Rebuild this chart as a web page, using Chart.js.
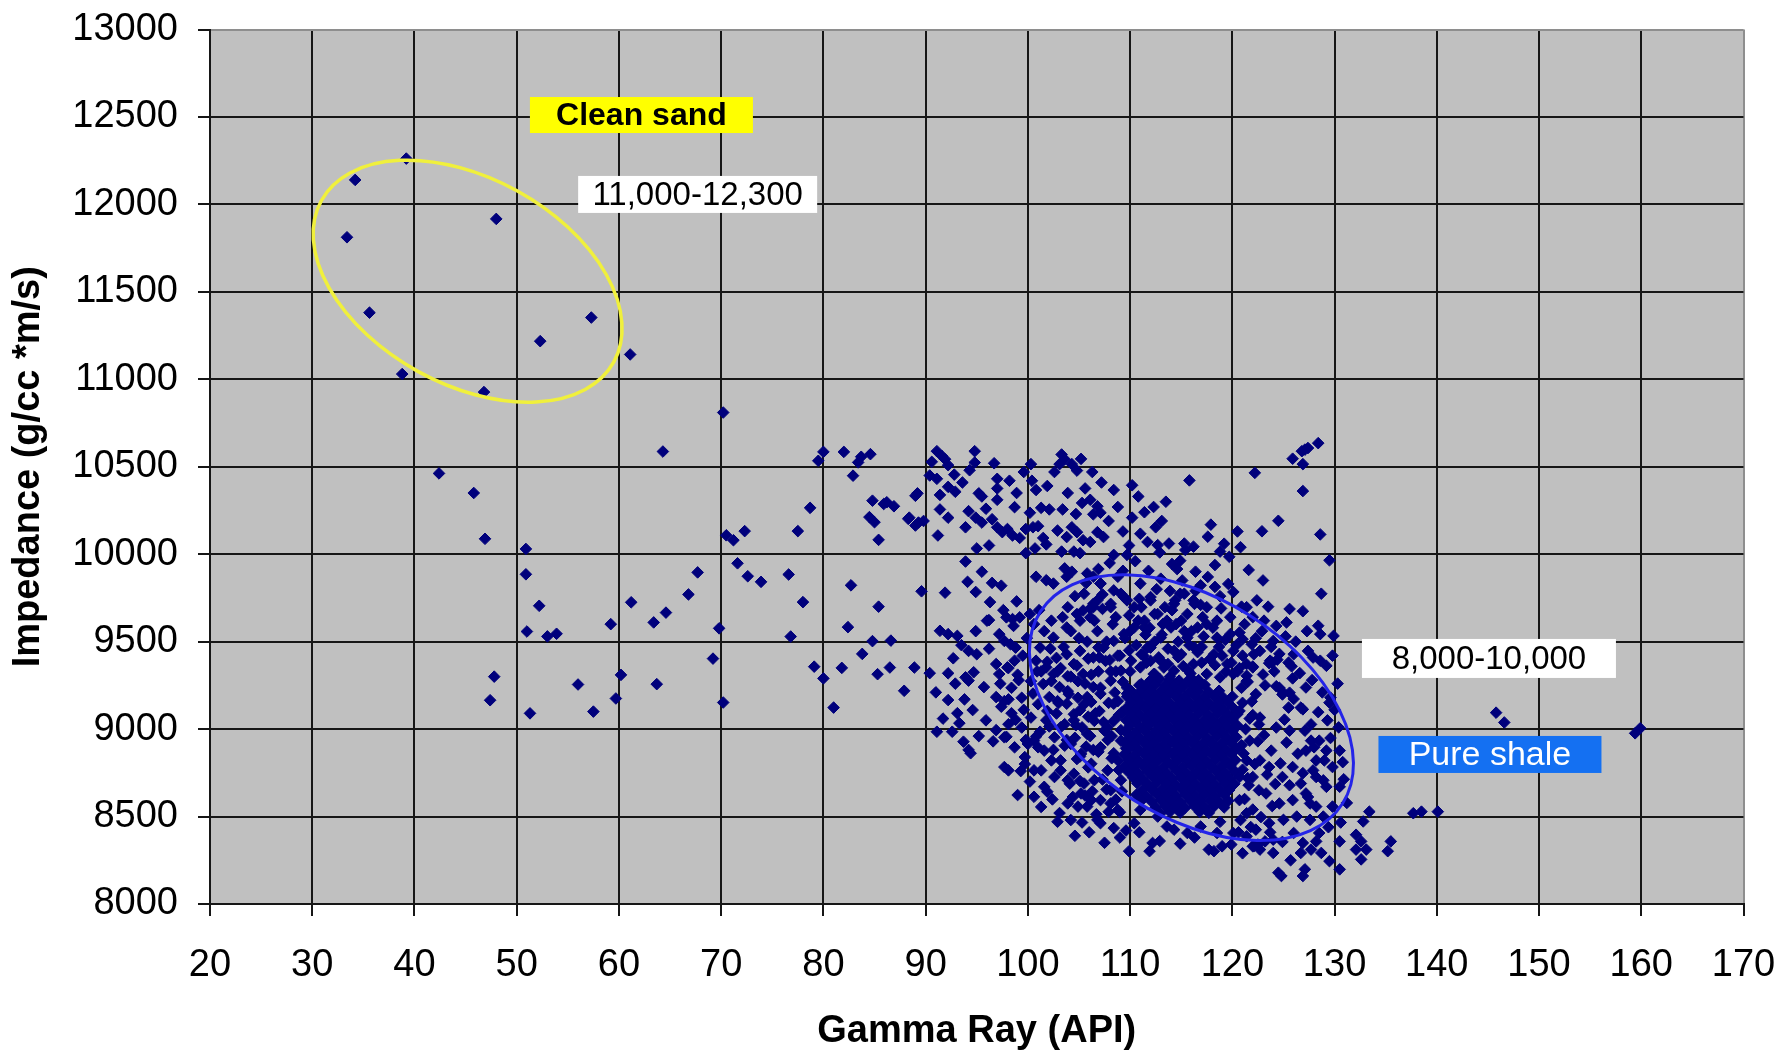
<!DOCTYPE html>
<html>
<head>
<meta charset="utf-8">
<title>Impedance vs Gamma Ray</title>
<script src="https://cdn.jsdelivr.net/npm/chart.js@4/dist/chart.umd.min.js"></script>
<style>
  html, body { margin: 0; padding: 0; background: #ffffff; }
  #wrap { width: 1781px; height: 1054px; }
</style>
</head>
<body>
<div id="wrap"><canvas id="chart" width="1781" height="1054"></canvas></div>
<script>
// Axis ticks
const grTicks = [20, 30, 40, 50, 60, 70, 80, 90, 100, 110, 120, 130, 140, 150, 160, 170];
const impTicks = [8000, 8500, 9000, 9500, 10000, 10500, 11000, 11500, 12000, 12500, 13000];

// Samples as [gamma ray (API), impedance (g/cc*m/s)]
const cleanSand = [
  [34.2,12140],[33.4,11812],[39.2,12262],[48.0,11917],[35.6,11381],[52.3,11218],[57.3,11353],
  [38.8,11030],[46.8,10927],[61.1,11142]
];

const transitionLeft = [
  [70.2,10810],[64.3,10587],[42.4,10462],[45.8,10350],[46.9,10088],[50.9,10030],[50.9,9885],
  [52.2,9705],[51.0,9558],[53.0,9530],[53.9,9545],[47.8,9300],[47.4,9165],[51.3,9090],[56.0,9255],
  [57.5,9100],[59.2,9600],[60.2,9310],[59.7,9175],[61.2,9725],[63.4,9610],[64.6,9666],[66.8,9770],
  [67.7,9896],[63.7,9257],[69.8,9576],[69.2,9403],[70.2,9152],[70.5,10108],[71.2,10080],[72.3,10132],
  [71.6,9948],[72.6,9874],[73.9,9842],[76.6,9884],[77.5,10132],[78.7,10265],[78.0,9726],[76.8,9529]
];

const transitionMid = [
  [79.5,10534],[80.0,10585],[82.0,10585],[82.9,10449],[83.4,10525],[83.7,10557],[84.6,10572],
  [84.8,10306],[85.9,10287],[86.2,10297],[86.9,10274],[88.3,10202],[89.0,10334],[89.0,10164],
  [84.5,10212],[85.0,10183],[85.4,10082],[82.7,9822],[85.4,9700],[82.4,9583],[84.8,9503],[86.6,9506],
  [83.8,9430],[79.1,9357],[81.8,9350],[80.0,9290],[85.3,9314],[86.5,9352],[88.9,9352],[87.9,9219],
  [81.0,9123],[89.6,9788],[89.8,10190]
];

const upperScatter = [
  [91.1,10589],[91.6,10561],[90.6,10528],[92.2,10509],[91.9,10543],[94.8,10589],[94.8,10524],
  [90.4,10450],[91.1,10431],[92.2,10385],[92.9,10357],[91.4,10339],[89.2,10348],[88.4,10209],
  [89.3,10181],[91.2,10107],[91.4,10256],[92.2,10209],[93.9,10154],[94.2,10246],[94.9,10209],
  [95.5,10181],[95.2,10348],[95.5,10330],[97.0,10431],[97.0,10376],[97.0,10311],[96.5,10200],
  [97.0,10154],[97.5,10126],[98.0,10144],[98.5,10107],[98.7,10269],[99.2,10093],[100.3,10515],
  [99.8,10144],[100.5,10154],[100.8,10367],[100.2,10237],[101.3,10265],[102.1,10256],[103.3,10570],
  [103.6,10543],[103.1,10515],[104.3,10515],[104.8,10478],[103.4,10256],[105.6,10376],[105.3,10293],
  [106.1,10311],[106.8,10274],[107.1,10237],[106.4,10228],[108.4,10367],[110.2,10394],[110.2,10209],
  [104.3,10154],[104.8,10126],[103.8,10098],[105.4,10080],[106.1,10070],[106.8,10126],[107.4,10098],
  [101.5,10093],[101.8,10056],[99.8,10006],[100.7,10033],[103.3,10015],[104.5,10015],[105.1,10006],
  [108.4,9996],[109.7,9996],[95.0,10033],[93.9,9958],[94.1,9842],[94.9,9784],[96.5,9836],[96.3,9726],
  [96.2,9623],[97.9,9639],[98.5,9629],[99.2,9639],[100.2,9658],[100.8,9871],[101.8,9851],[102.5,9832],
  [103.6,9919],[104.3,9900],[103.8,9871],[105.8,9890],[106.4,9871],[107.1,9832],[108.4,9793],
  [109.1,9774],[104.8,9658],[105.4,9678],[106.1,9639],[106.4,9716],[107.3,9687],[91.4,9562],
  [92.2,9543],[93.1,9533],[97.2,9543],[97.7,9504],[98.3,9485],[98.8,9466],[94.2,9447],[95.0,9428],
  [92.2,9319],[93.9,9296],[94.2,9277],[94.7,9325],[96.9,9372],[97.2,9315],[98.0,9353],[98.7,9391],
  [92.2,9166],[93.1,9091],[93.3,9034],[94.6,9109],[96.9,9183],[97.4,9128],[98.4,9091],[98.8,9053],
  [91.1,8985],[92.6,8985],[93.7,8928],[94.2,8881],[94.4,8862],[96.9,8994],[97.9,8956],[99.8,8938],
  [92.8,10455],[93.6,10410],[94.3,10480],[95.9,10260],[96.2,10050],[96.7,10520],[98.2,10420],
  [98.9,10350],[99.6,10470],[100.4,10420],[101.0,10160],[101.9,10390],[102.6,10470],[102.9,10135],
  [103.9,10350],[104.7,10230],[105.2,10545],[106.3,10470],[107.2,10410],[107.9,10190],[108.8,10270],
  [109.3,10130],[109.9,10050],[111.4,10240],[112.9,10010],[113.5,10300],[110.8,10330],[112.3,10270],
  [113.1,10190],[117.6,10100],[119.2,10060],[120.5,10130]
];

const shaleUpper = [
  [128.4,10635],[127.4,10607],[127.1,10598],[126.8,10589],[125.9,10546],[126.9,10515],[122.2,10465],
  [126.9,10361],[128.6,10113],[129.5,9965],[118.3,9813],[125.6,9687],[126.9,9674],[128.7,9774],
  [125.3,9610],[128.4,9591],[128.6,9543],[129.9,9533],[120.7,9552],[121.0,9514],[121.9,9485],
  [122.7,9447],[123.7,9391],[126.0,9428],[127.4,9447],[127.9,9409],[128.6,9391],[129.2,9362],
  [122.0,9353],[121.4,9305],[117.9,10169],[118.8,10015],[122.9,10131],[124.5,10191],[118.3,9938],
  [120.1,9784],[122.4,9736],[123.1,9620],[121.4,9697],[124.0,9504],[122.1,9428],[123.9,9381],
  [119.8,9543],[118.5,9620],[117.5,9697],[116.2,9736],[114.1,9944],[114.6,9915],[114.9,9963],
  [116.4,9900],[116.9,9822],[111.0,10117],[111.7,10070],[112.7,10052],[113.8,10061],[115.3,10061],
  [116.2,10043],[115.4,10024],[112.5,10154],[115.8,10422],
  [105.7,9835],[106.9,9915],[108.0,9950],[109.3,9905],[110.5,9960],[111.8,9905],[113.0,9860],
  [113.9,9790],[115.1,9850],[116.4,9790],[117.6,9870],[118.8,9760],[119.6,9830],[120.9,9700],
  [122.0,9640],[123.5,9700],[124.3,9590],[125.2,9530],[126.2,9500],[127.3,9560],[123.0,9850],
  [121.6,9910],[119.7,9985],[120.8,10040]
];

const shaleMid = [
  [111.0,9832],[112.0,9736],[112.7,9658],[113.6,9620],[111.4,9581],[110.4,9697],[114.3,9716],
  [114.9,9774],[115.6,9658],[116.6,9581],[117.5,9600],[118.5,9523],[120.1,9447],[121.4,9372],
  [119.5,9372],[118.2,9428],[116.9,9466],[115.6,9523],[114.3,9447],[113.0,9391],[111.7,9466],
  [111.0,9353],[112.3,9315],[114.3,9334],[116.2,9372],[117.5,9315],[118.8,9296],[120.1,9315],
  [102.3,9620],[103.9,9697],[105.5,9774],[107.1,9832],[108.8,9871],[106.5,9620],[108.1,9697],
  [106.8,9736],[109.4,9755],[110.8,9620],[111.9,9580],[113.1,9540],[114.5,9600],[115.8,9480],
  [117.2,9530],[118.7,9470],[119.9,9380],[121.0,9420],[122.9,9560],[123.8,9470],[124.6,9430],
  [125.5,9380],[126.6,9320],[127.8,9280],[128.8,9210],[129.6,9180],[124.1,9330],[125.9,9290],
  [123.2,9250],[119.4,9330],[117.8,9400],[116.6,9440],[113.7,9460],[112.4,9500],[111.3,9420],
  [110.0,9560],[117.1,9640],[118.9,9690],[119.8,9640],[121.2,9600],[122.3,9520],[120.4,9480],
  [129.8,9420],[130.3,9260],[130.0,9110],[129.3,9050],
  [112.0,9390],[113.3,9352],[114.7,9411],[115.9,9318],[117.0,9470],[118.3,9365],[119.0,9420],
  [110.0,9330],[109.5,9520],[110.9,9745],[112.6,9800],[114.1,9680],[115.3,9560],[116.9,9710],
  [118.1,9580],[119.3,9510],[108.6,9640],[107.3,9770],[106.1,9690],[104.6,9760],[103.4,9640],
  [104.2,9560],[105.8,9500],[107.0,9410],[108.6,9330]
];

const shaleLeft = [
  [100.8,9391],[101.8,9353],[102.5,9315],[101.5,9258],[102.1,9183],[103.1,9240],[103.8,9145],
  [102.8,9089],[104.5,9051],[105.1,9108],[105.8,9183],[106.4,9240],[105.4,9315],[104.5,9372],
  [103.8,9428],[105.1,9447],[106.4,9409],[107.4,9466],[108.4,9504],[109.4,9543],[110.4,9581],
  [111.4,9620],[112.4,9658],[113.4,9697],[114.4,9736],[115.3,9774],[116.3,9716],[115.0,9620],
  [114.0,9581],[113.0,9523],[112.0,9466],[111.1,9428],[110.1,9391],[109.1,9334],[108.1,9277],
  [107.1,9202],[108.4,9145],[109.7,9202],[111.1,9258],[112.4,9315],[113.7,9372],[115.0,9428],
  [116.3,9466],[115.7,9334],[114.4,9240],[113.0,9164],[111.7,9108],[110.4,9051],[109.1,8994],
  [107.8,8938],[106.4,8881],[105.1,8843],[108.4,8862],[110.4,8900],[112.4,8957],[114.4,9051],
  [116.0,9126],[116.7,9240],[116.7,8976],[115.0,8900],[113.4,8843],[105.1,9620],[106.4,9697],
  [108.1,9716],[109.7,9736],[111.1,9697],[112.0,9755],[103.8,9581],[102.5,9523],[101.2,9466],
  [100.8,8957],[101.8,9051],[102.5,8881],[103.8,8938],
  [104.2,9300],[105.6,9260],[106.9,9330],[107.6,9390],[108.8,9420],[109.9,9450],[111.6,9380],
  [112.8,9410],[113.9,9300],[115.2,9360],[116.2,9280],[114.8,9180],[113.5,9230],[112.2,9150],
  [110.8,9200],[109.3,9270],[107.9,9150],[106.6,9090],[105.3,9010],[104.6,8950],[106.1,8960],
  [107.4,9040],[108.9,9080],[110.2,9130],[111.5,9020],[112.9,9060],[114.1,9110],[115.6,9050],
  [116.4,8920],[115.3,8960],[113.8,8920],[112.1,8880],[110.9,8950],[109.6,8890],[108.2,8960],
  [106.9,8870],[105.7,8900],[117.0,9380],[116.8,9160],[104.0,9200],[103.2,9010],[102.9,9330],
  [103.5,9470],[105.0,9520],[106.8,9560],[108.3,9600],[109.9,9650],[111.5,9540],[113.2,9600],
  [114.7,9500],[116.0,9560],[110.6,9480],[107.7,9500],[109.0,9420],
  [98.1,9349],[99.0,9311],[98.4,9236],[99.4,9179],[100.3,9274],[101.3,9330],[102.3,9274],
  [103.2,9349],[103.9,9217],[102.9,9160],[101.9,9104],[101.0,9142],[100.3,9066],[99.4,9009],
  [100.6,8934],[101.6,8877],[102.6,8953],[103.6,9028],[104.5,9085],[105.5,9142],[104.9,9274],
  [106.2,9311],[107.1,9236],[108.1,9330],[106.5,9047],[107.5,8991],[108.4,9047],[107.1,8896],
  [106.2,8802],[105.2,8858],[104.2,8915],[103.2,8821],[104.5,8745],[105.5,8689],[106.5,8708],
  [107.8,8764],[108.8,8821],[109.1,8708],[108.1,8651],[107.1,8594],[105.8,8557],[103.9,8575],
  [102.6,8726],[101.6,8670],[100.6,8764],[99.7,8840],[98.7,8896],[98.1,9028],[97.7,9160],
  [104.9,9179],[105.8,8972],[108.8,9160],[109.7,9236],[109.1,8934],
  [104.4,8612],[105.1,8703],[105.9,8781],[106.3,8644],[106.8,8876],[107.3,8712],[107.7,8655],
  [108.2,8833],[108.6,8597],[108.9,8766],[109.2,8644],[109.0,8525],[107.9,8527],[106.7,8513],
  [105.6,8620],[104.8,8829],[104.1,8688],[103.6,8905],[104.7,9022],[105.9,9071],[106.2,9155],
  [107.0,9103],[107.8,9012],[108.5,9209],[109.2,9096],[108.0,9395],[106.9,9467],[105.9,9403],
  [104.8,9363],[103.9,9302],[102.8,9407],[101.9,9385],[103.0,9149],[102.1,9015],[101.2,8985],
  [100.5,9203],[99.6,9110],[99.3,8760],[100.2,8700],[102.4,8598],[103.1,8520],[104.2,8480],
  [105.3,8466],[109.6,8420],[108.4,8434],
  [90.4,9320],[91.0,9210],[91.7,9060],[92.7,9405],[93.5,9480],[93.8,9170],[94.9,9560],
  [95.7,9240],[95.9,9050],[96.2,9460],[96.6,8930],[97.3,9260],[97.6,9680],[98.1,9170],
  [98.6,9590],[99.1,9280],[99.5,9420],[99.9,9520],[100.6,9600],[101.1,9680],[101.6,9560],
  [102.2,9460],[100.9,9330],[99.7,8800],[95.2,8960],[92.9,9260],[96.0,9620],[98.9,9730],
  [97.4,9820],[95.5,9900],[91.9,9780]
];

const shaleCore = [
  [112.0,9279],[112.9,9286],[113.9,9281],[114.8,9277],[115.8,9285],[116.7,9280],
  [110.9,9251],[111.5,9247],[112.4,9254],[113.4,9249],[114.3,9245],[115.3,9252],[116.2,9248],[117.3,9253],
  [110.1,9218],[111.0,9213],[112.0,9220],[112.9,9215],[113.9,9211],[114.8,9219],[115.8,9214],[116.7,9217],[117.7,9212],[118.7,9219],
  [109.7,9185],[110.6,9181],[111.5,9188],[112.5,9183],[113.4,9179],[114.4,9186],[115.3,9182],[116.3,9187],[117.2,9180],[118.2,9185],[119.1,9181],[120.0,9186],
  [110.1,9152],[111.1,9147],[112.0,9154],[113.0,9149],[113.9,9145],[114.9,9153],[115.8,9148],[116.8,9151],[117.7,9146],[118.7,9153],[119.6,9149],
  [109.6,9118],[110.6,9114],[111.5,9121],[112.5,9116],[113.4,9112],[114.4,9120],[115.3,9115],[116.3,9119],[117.2,9113],[118.2,9118],[119.1,9114],[120.1,9120],
  [110.1,9086],[111.0,9081],[112.0,9088],[112.9,9083],[113.9,9079],[114.8,9087],[115.8,9082],[116.7,9085],[117.7,9080],[118.6,9087],[119.6,9083],[120.5,9086],
  [109.6,9052],[110.5,9048],[111.5,9055],[112.4,9050],[113.4,9046],[114.3,9054],[115.3,9049],[116.2,9053],[117.2,9047],[118.1,9052],[119.1,9048],[120.0,9054],
  [110.0,9020],[111.0,9015],[111.9,9022],[112.9,9017],[113.8,9013],[114.8,9021],[115.7,9016],[116.7,9019],[117.6,9014],[118.6,9021],[119.5,9017],[120.5,9020],
  [109.5,8986],[110.5,8982],[111.4,8989],[112.4,8984],[113.3,8980],[114.3,8988],[115.2,8983],[116.2,8987],[117.1,8981],[118.1,8986],[119.0,8982],[120.0,8988],
  [110.0,8954],[110.9,8949],[111.9,8956],[112.8,8951],[113.8,8947],[114.7,8955],[115.7,8950],[116.6,8953],[117.6,8948],[118.5,8955],[119.5,8951],[120.4,8954],
  [109.5,8920],[110.4,8916],[111.4,8923],[112.3,8918],[113.3,8914],[114.2,8922],[115.2,8917],[116.1,8921],[117.1,8915],[118.0,8920],[119.0,8916],[119.9,8922],
  [109.9,8888],[110.9,8883],[111.8,8890],[112.8,8885],[113.7,8881],[114.7,8889],[115.6,8884],[116.6,8887],[117.5,8882],[118.5,8889],[119.4,8885],[120.4,8888],
  [109.4,8854],[110.4,8850],[111.3,8857],[112.3,8852],[113.2,8848],[114.2,8856],[115.1,8851],[116.1,8855],[117.0,8849],[118.0,8854],[118.9,8850],[119.9,8856],
  [109.9,8822],[110.8,8817],[111.8,8824],[112.7,8819],[113.7,8815],[114.6,8823],[115.6,8818],[116.5,8821],[117.5,8816],[118.4,8823],[119.4,8819],[120.3,8822],
  [109.4,8788],[110.3,8784],[111.3,8791],[112.2,8786],[113.2,8782],[114.1,8790],[115.1,8785],[116.0,8789],[117.0,8783],[117.9,8788],[118.9,8784],[119.8,8790],
  [109.8,8756],[110.8,8751],[111.7,8758],[112.7,8753],[113.6,8749],[114.6,8757],[115.5,8752],[116.5,8755],[117.4,8750],[118.4,8757],[119.3,8753],[120.3,8756],
  [110.3,8722],[111.2,8718],[112.2,8725],[113.1,8720],[114.1,8716],[115.0,8724],[116.0,8719],[116.9,8723],[117.9,8717],[118.8,8722],[119.8,8718],
  [110.7,8690],[111.7,8685],[112.6,8692],[113.6,8687],[114.5,8683],[115.5,8691],[116.4,8686],[117.4,8689],[118.3,8684],[119.3,8691],[120.2,8687],
  [111.2,8652],[112.1,8659],[113.1,8654],[114.0,8650],[115.0,8658],[115.9,8653],[116.9,8657],[117.8,8651],[118.8,8656],[119.7,8652],
  [110.6,8624],[111.6,8619],[112.6,8626],[113.5,8621],[114.5,8617],[115.4,8625],[116.4,8620],[117.3,8623],[118.3,8618],[119.2,8625],
  [111.1,8590],[112.1,8586],[113.0,8593],[114.0,8588],[114.9,8584],[115.9,8592],[116.8,8587],[117.8,8591],[118.7,8585],[119.6,8590],
  [112.5,8553],[113.5,8560],[114.4,8555],[115.4,8551],[116.3,8559],[117.3,8554],[118.2,8557],[119.2,8552],
  [113.0,8520],[113.9,8527],[114.9,8522],[116.8,8526],[117.7,8521]
];

const shaleRight = [
  [120.5,9330],[121.5,9270],[122.3,9200],[121.0,9150],[122.0,9080],[121.3,9000],[122.5,8930],
  [121.1,8860],[122.2,8800],[121.5,8720],[122.6,8650],[121.2,8600],[122.0,8540],[120.8,8480],
  [121.8,8440],[120.6,8410],
  [120.7,9349],[121.4,9274],[122.0,9358],[123.6,9377],[124.6,9236],[125.6,9208],[124.9,9198],
  [126.9,9113],[129.5,9151],[130.5,8877],[130.8,8811],[128.5,8934],[129.2,8877],[128.2,8821],
  [129.8,8783],[127.2,8877],[125.9,8783],[124.9,8726],[123.6,8783],[122.7,8821],[125.6,8991],
  [124.3,9009],[122.7,9066],[121.7,8934],[121.4,8821],[122.0,8726],[123.3,8632],[124.6,8575],
  [125.9,8594],[127.2,8632],[128.2,8726],[129.2,8670],[129.8,8557],[130.5,8670],[128.2,8557],
  [128.9,8500],[127.6,8481],[126.3,8500],[125.0,8481],[123.6,8462],[122.3,8425],[122.0,8330],
  [122.7,8311],[124.0,8292],[121.4,8519],[120.7,8594],[120.7,8726],[120.7,9104],
  [124.3,9245],[125.0,9208],[125.5,9123],[126.7,9123],[127.1,8991],[127.7,8934],[128.0,8896],
  [129.0,8821],[127.9,8764],[126.7,8689],[125.6,8679],[127.6,8575],[126.0,8406],[124.0,8368],
  [123.2,8358],[122.5,8340],[128.2,8358],
  [120.9,9236],[121.9,9158],[122.6,9027],[123.1,8966],[123.8,8877],[123.4,8740],[124.2,8686],
  [124.7,8804],[125.3,8923],[125.1,9054],[126.0,9172],[126.4,8859],[126.9,8748],[127.4,8612],
  [123.9,8560],[122.8,8497],[121.6,8679],[121.0,8768],[120.9,8907],[121.7,9060],[123.0,9312],
  [124.4,9397],[125.8,9359],[127.2,9238],[128.4,9097],[127.7,9027],[128.9,8707],[129.6,8949],
  [130.4,9010],[130.9,8713],[131.2,8578],[130.6,8466],[129.4,8439]
];

const shaleBase = [
  [109.9,8302],[111.9,8302],[112.2,8349],[117.7,8311],[118.2,8302],[119.0,8330],[115.6,8406],
  [113.6,8443],[114.3,8425],[106.8,8481],[107.1,8462],[110.4,8462],[104.9,8557],[99.0,8623],
  [100.6,8613],[101.9,8642],[97.7,8783],[98.1,8764],[97.7,8953],[100.0,8915],[101.0,8896],
  [101.3,8764],[102.3,8821],[103.2,8764],[103.9,8708],[105.2,8632],[106.2,8594],[108.1,8575],
  [108.8,8538],[111.0,8538],[112.7,8500],[116.9,8443],[118.5,8406],[120.1,8406],[121.4,8387],
  [122.1,8330],
  [101.3,8555],[102.9,8470],[104.6,8390],[106.0,8410],[107.5,8350],[109.0,8380],[110.9,8410],
  [112.9,8360],[114.9,8345],[116.3,8380],[118.8,8470],[119.9,8340],[121.0,8290],[123.7,8410],
  [124.9,8355],[125.7,8250],
  [133.4,8528],[132.8,8472],[132.1,8396],[132.6,8358],[133.1,8311],[132.1,8311],[132.6,8255],
  [130.5,8358],[130.5,8198],[129.5,8245],[128.5,8406],[128.7,8292],[127.7,8311],[126.9,8349],
  [126.7,8292],[127.1,8198],[126.9,8160],[124.5,8179],[124.8,8160],[135.5,8358],[135.2,8302],
  [137.7,8519],[138.5,8528],[140.1,8528]
];

const farRight = [[145.8,9094],[146.6,9038],[159.4,8976],[159.9,9005]];

const samples = [].concat(cleanSand, transitionLeft, transitionMid, upperScatter, shaleUpper,
  shaleMid, shaleLeft, shaleCore, shaleRight, shaleBase, farRight);

// Highlighted zones (centre in data units, radii in pixels)
const zones = [
  { gr: 45.2, imp: 11561, rx: 167, ry: 103, angle: 28.9, color: '#f0f03c', width: 3.5 },
  { gr: 116.0, imp: 9123, rx: 179, ry: 109, angle: 32.4, color: '#2424e8', width: 3 }
];

// Callout boxes (centre in data units, size in pixels)
const callouts = [
  { text: 'Clean sand', gr: 62.2, imp: 12511, w: 223, h: 36, fill: '#ffff00', color: '#000000', weight: 'bold', size: 32 },
  { text: '11,000-12,300', gr: 67.7, imp: 12057, w: 239, h: 37, fill: '#ffffff', color: '#000000', weight: 'normal', size: 33 },
  { text: '8,000-10,000', gr: 145.1, imp: 9404, w: 254, h: 39, fill: '#ffffff', color: '#000000', weight: 'normal', size: 33 },
  { text: 'Pure shale', gr: 145.2, imp: 8855, w: 223, h: 37, fill: '#1470f2', color: '#ffffff', weight: 'normal', size: 34 }
];

const FONT = '"Liberation Sans", Arial, Helvetica, sans-serif';

const plotBackground = {
  id: 'plotBackground',
  beforeDraw(chart) {
    const { ctx, chartArea: a } = chart;
    ctx.save();
    ctx.fillStyle = '#c0c0c0';
    ctx.fillRect(a.left, a.top, a.right - a.left, a.bottom - a.top);
    ctx.restore();
  }
};

const overlays = {
  id: 'overlays',
  afterDatasetsDraw(chart) {
    const { ctx, scales: { x, y } } = chart;
    ctx.save();
    zones.forEach(z => {
      ctx.beginPath();
      ctx.ellipse(x.getPixelForValue(z.gr), y.getPixelForValue(z.imp), z.rx, z.ry,
        z.angle * Math.PI / 180, 0, 2 * Math.PI);
      ctx.strokeStyle = z.color;
      ctx.lineWidth = z.width;
      ctx.stroke();
    });
    callouts.forEach(c => {
      const cx = x.getPixelForValue(c.gr);
      const cy = y.getPixelForValue(c.imp);
      ctx.fillStyle = c.fill;
      ctx.fillRect(cx - c.w / 2, cy - c.h / 2, c.w, c.h);
      ctx.fillStyle = c.color;
      ctx.font = c.weight + ' ' + c.size + 'px ' + FONT;
      ctx.textAlign = 'center';
      ctx.textBaseline = 'middle';
      ctx.fillText(c.text, cx, cy + 1);
    });
    ctx.restore();
  }
};

const GRID = '#161616';

new Chart(document.getElementById('chart'), {
  type: 'scatter',
  data: {
    datasets: [{
      data: samples,
      pointStyle: 'rectRot',
      pointRadius: 5.8,
      pointBorderWidth: 1,
      backgroundColor: '#00007c',
      borderColor: '#00007c'
    }]
  },
  options: {
    responsive: false,
    animation: false,
    devicePixelRatio: 1,
    events: [],
    layout: { padding: { left: 0, top: 29.5, right: 37.5, bottom: 0 } },
    plugins: { legend: { display: false }, tooltip: { enabled: false } },
    scales: {
      x: {
        type: 'linear', min: 20, max: 170,
        afterBuildTicks: s => { s.ticks = grTicks.map(v => ({ value: v })); },
        afterFit: s => { s.height = 150; s.paddingLeft = 0; s.paddingRight = 0; },
        grid: {
          color: c => (c.tick && c.tick.value === 170) ? '#8e8e8e' : GRID,
          lineWidth: 2, tickLength: 12, tickColor: GRID, drawTicks: true
        },
        border: { display: true, color: GRID, width: 2 },
        ticks: {
          font: { family: FONT, size: 38 }, color: '#000000', padding: 27,
          maxRotation: 0, autoSkip: false, callback: v => String(v)
        },
        title: {
          display: true, text: 'Gamma Ray (API)', color: '#000000',
          font: { family: FONT, size: 38, weight: 'bold' }, padding: { top: 0, bottom: 0 }
        }
      },
      y: {
        type: 'linear', min: 8000, max: 13000,
        afterBuildTicks: s => { s.ticks = impTicks.map(v => ({ value: v })); },
        afterFit: s => { s.width = 210; s.paddingTop = 0; s.paddingBottom = 0; },
        grid: {
          color: c => (c.tick && c.tick.value === 13000) ? '#8e8e8e' : GRID,
          lineWidth: 2, tickLength: 12, tickColor: GRID, drawTicks: true
        },
        border: { display: true, color: GRID, width: 2 },
        ticks: {
          font: { family: FONT, size: 38 }, color: '#000000', padding: 20,
          autoSkip: false, callback: v => String(v)
        },
        title: {
          display: true, text: 'Impedance (g/cc *m/s)', color: '#000000',
          font: { family: FONT, size: 38, weight: 'bold' }, padding: { top: 6, bottom: 0 }
        }
      }
    }
  },
  plugins: [plotBackground, overlays]
});
</script>
</body>
</html>
